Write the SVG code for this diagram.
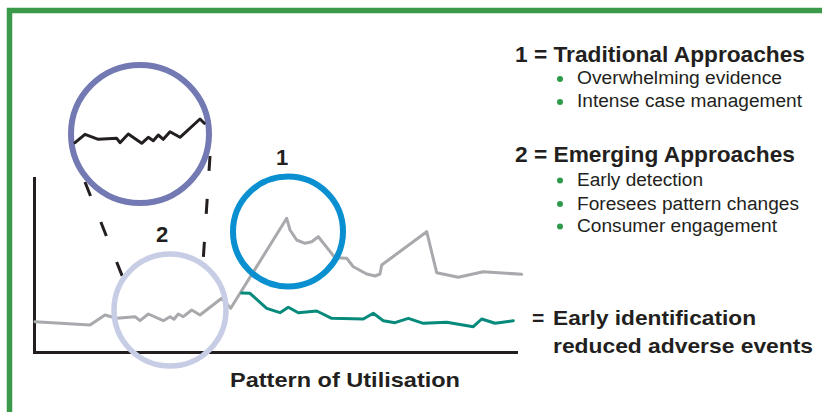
<svg xmlns="http://www.w3.org/2000/svg" width="822" height="412" viewBox="0 0 822 412">
<style>
.t{font-family:"Liberation Sans",Arial,sans-serif;fill:#231f20}
.b{font-weight:bold}
.line{fill:none;stroke-width:3;stroke-linejoin:round;stroke-linecap:round}
.ring{fill:none}
.dot{fill:#2e9b4a}
</style>
<rect x="9.5" y="10.5" width="830" height="420" fill="#ffffff" stroke="#3b9a4a" stroke-width="5.5"/>
<g id="axes" fill="none" stroke="#231f20" stroke-width="3">
<path d="M34.5,177 V352.5 H518"/>
</g>
<g id="series">
<polyline class="line" stroke="#a7a9ac" points="35,321.7 90,325 105,315 116.7,318.3 135,316.7 140,320.7 148.3,314 163.3,320.7 170,316.7 174,319.3 178.3,314 183.3,316.7 191.7,310 200,315 221.7,298.3 230.7,308.3 286.7,218.3 290,230 296.7,240 305,243.3 311.7,241.7 318.3,236.7 335,257.7 346.7,258.3 353.3,266.7 366.7,274 375,276 380,274 381.7,265 426.7,231.7 436.7,272.7 458.3,277.3 483.3,271.7 521.7,274.3"/>
<polyline class="line" stroke="#068a7c" points="241.7,293 250,293.3 266.7,308.3 280,312.7 288.3,307.3 298.3,312.7 316.7,311 331.7,318.3 363.3,319 373.3,313.3 383.3,320.7 395,322.7 408.3,318.3 423.3,323.3 446.7,322.3 473.3,326.7 481.7,319 495,323.3 513.3,320.7"/>
</g>
<g id="connectors" stroke="#231f20" stroke-width="3" fill="none" stroke-dasharray="15 28">
<path d="M85,182 L123,278"/>
<path d="M210,156 L203,263"/>
</g>
<g id="zoom-circle">
<circle class="ring" cx="140" cy="134" r="69" stroke="#7379b3" stroke-width="6"/>
<polyline class="line" stroke="#231f20" points="75,142.7 85,134.3 98.3,139.3 116.7,138.3 120,142.7 128.3,134 141.7,143.3 148.3,137.3 153.3,140.7 158.3,135 163.3,139.3 170,131.7 180,137.3 200,119 204.3,123.3"/>
</g>
<g id="circle-2">
<circle class="ring" cx="170" cy="310" r="56" stroke="#c8cde6" stroke-width="5.5"/>
<text class="t b" x="162" y="242" font-size="22" text-anchor="middle">2</text>
</g>
<g id="circle-1">
<circle class="ring" cx="288" cy="231.5" r="55" stroke="#0a8fd0" stroke-width="6"/>
<text class="t b" x="282" y="165" font-size="22" text-anchor="middle">1</text>
</g>
<g id="legend-1">
<text class="t b" x="515" y="61.7" font-size="22" textLength="290" lengthAdjust="spacingAndGlyphs">1 = Traditional Approaches</text>
<circle class="dot" cx="560" cy="79" r="3"/>
<text class="t" x="577" y="84" font-size="18" textLength="205" lengthAdjust="spacingAndGlyphs">Overwhelming evidence</text>
<circle class="dot" cx="560" cy="102" r="3"/>
<text class="t" x="577" y="107.3" font-size="18" textLength="225" lengthAdjust="spacingAndGlyphs">Intense case management</text>
</g>
<g id="legend-2">
<text class="t b" x="515" y="161.7" font-size="22" textLength="280" lengthAdjust="spacingAndGlyphs">2 = Emerging Approaches</text>
<circle class="dot" cx="560" cy="180.5" r="3"/>
<text class="t" x="577" y="186" font-size="18" textLength="126" lengthAdjust="spacingAndGlyphs">Early detection</text>
<circle class="dot" cx="560" cy="204" r="3"/>
<text class="t" x="577" y="209.5" font-size="18" textLength="222" lengthAdjust="spacingAndGlyphs">Foresees pattern changes</text>
<circle class="dot" cx="560" cy="226.5" r="3"/>
<text class="t" x="577" y="232" font-size="18" textLength="200" lengthAdjust="spacingAndGlyphs">Consumer engagement</text>
</g>
<g id="legend-3">
<text class="t b" x="532" y="325" font-size="21">=</text>
<text class="t b" x="553" y="325" font-size="21" textLength="203" lengthAdjust="spacingAndGlyphs">Early identification</text>
<text class="t b" x="553" y="353.3" font-size="21" textLength="260" lengthAdjust="spacingAndGlyphs">reduced adverse events</text>
</g>
<g id="axis-label">
<text class="t b" x="230" y="386.7" font-size="21" textLength="230" lengthAdjust="spacingAndGlyphs">Pattern of Utilisation</text>
</g>
</svg>
